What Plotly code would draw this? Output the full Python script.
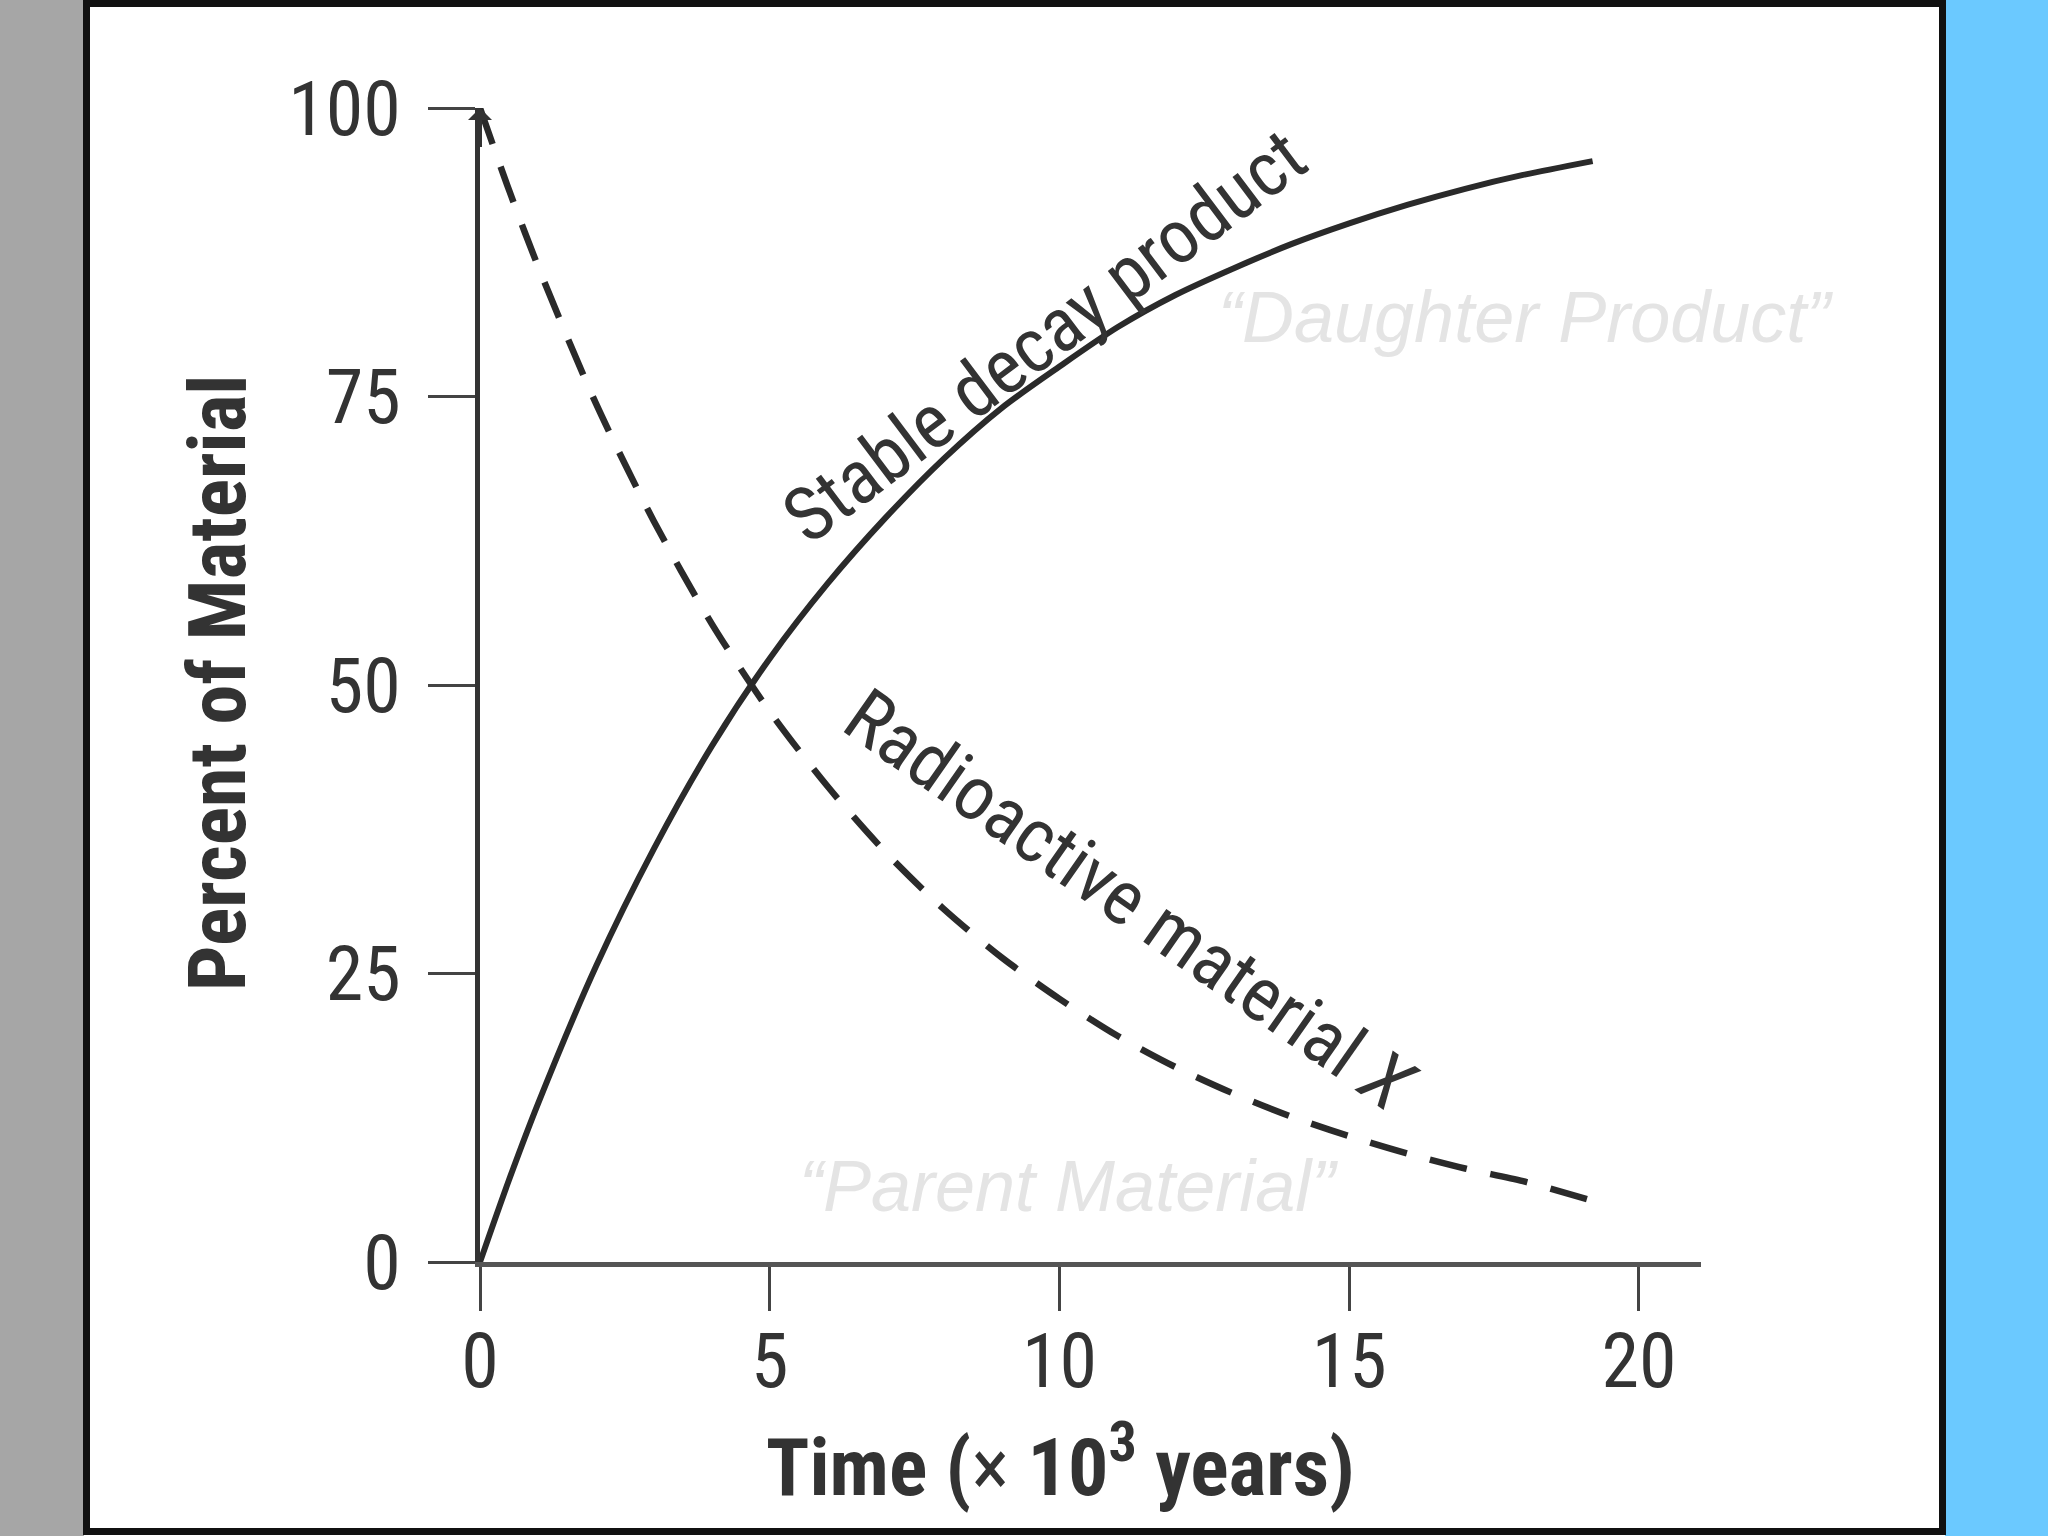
import plotly.graph_objects as go

# ---- data ----
time_kyr = [0, 0.5, 1, 2, 3, 4, 5, 6, 7, 8, 9, 10, 11, 12, 13, 14, 15, 16, 17, 18, 19.2]
radioactive_pct = [100, 92.9, 86.3, 74.4, 64.2, 55.3, 47.7, 41.2, 35.5, 30.6, 26.4,
                   22.8, 19.6, 16.9, 14.6, 12.6, 10.9, 9.4, 8.1, 7.0, 5.3]
stable_pct = [0, 7.1, 13.7, 25.6, 35.8, 44.7, 52.3, 58.8, 64.5, 69.6, 74.0,
              77.6, 81.0, 83.8, 86.1, 88.2, 90.0, 91.6, 93.0, 94.2, 95.4]
x_ticks = [0, 5, 10, 15, 20]
y_ticks = [0, 25, 50, 75, 100]
x_title = "Time (<span style='font-weight:normal'>\u00d7</span> 10<sup>3</sup> years)"
y_title = "Percent of Material"

W, H = 2048, 1536
PL, PR, PT, PB = 480, 1701, 108, 1262  # plot area in pixels


def fx(p):
    return p / W


def fy(p):
    return 1 - p / H


NARROW = "Liberation Sans Narrow, Roboto Condensed, Roboto, sans-serif"
INK = "#333333"

fig = go.Figure()
fig.add_trace(go.Scatter(
    x=time_kyr, y=stable_pct, mode="lines", cliponaxis=False,
    line=dict(color="#2a2a2a", width=6, shape="spline", smoothing=0.8),
    showlegend=False, hoverinfo="skip"))
fig.add_trace(go.Scatter(
    x=time_kyr, y=radioactive_pct, mode="lines", cliponaxis=False,
    line=dict(color="#2a2a2a", width=6.5, dash="38px,24px", shape="spline", smoothing=0.8),
    showlegend=False, hoverinfo="skip"))

fig.update_layout(
    width=W, height=H, autosize=False,
    margin=dict(l=0, r=0, t=0, b=0, pad=0, autoexpand=False),
    paper_bgcolor="white", plot_bgcolor="white",
    xaxis=dict(domain=[fx(PL), fx(PR)], range=[0, 21.07], automargin=False,
               tickvals=x_ticks, ticktext=[str(v) for v in x_ticks],
               ticks="outside", ticklen=44, tickwidth=3, tickcolor="#444",
               showline=True, linewidth=5, linecolor="#555",
               showgrid=False, zeroline=False, ticklabelstandoff=-15,
               tickfont=dict(family=NARROW, size=76, color=INK)),
    yaxis=dict(domain=[fy(PB), fy(PT)], range=[0, 100], automargin=False,
               tickvals=y_ticks, ticktext=[str(v) for v in y_ticks],
               ticks="outside", ticklen=47, tickwidth=3, tickcolor="#444",
               showline=True, linewidth=5, linecolor="#333",
               showgrid=False, zeroline=False, ticklabelstandoff=12,
               tickfont=dict(family=NARROW, size=76, color=INK)),
    shapes=[
        dict(type="rect", xref="paper", yref="paper", x0=fx(0), x1=fx(84), y0=0, y1=1,
             fillcolor="#a6a6a6", line=dict(width=0), layer="below"),
        dict(type="rect", xref="paper", yref="paper", x0=fx(1945), x1=1, y0=0, y1=1,
             fillcolor="#6BC9FF", line=dict(width=0), layer="below"),
        dict(type="rect", xref="paper", yref="paper", x0=fx(86.5), x1=fx(1942.5),
             y0=fy(1531.5), y1=fy(3.5), line=dict(color="#111111", width=7)),
    ],
)

ann = [
    dict(x=fx(218), y=fy(683), xref="paper", yref="paper", text=y_title, textangle=-90,
         xanchor="center", yanchor="middle",
         showarrow=False, font=dict(family=NARROW, size=80, color=INK, weight="bold")),
    dict(x=fx(1060), y=fy(1462), xref="paper", yref="paper", text=x_title,
         xanchor="center", yanchor="middle",
         showarrow=False, font=dict(family=NARROW, size=80, color=INK, weight="bold")),
    dict(x=9.75, y=80.2, xref="x", yref="y", text="Stable decay product", textangle=-37,
         showarrow=False, font=dict(family=NARROW, size=76, color=INK)),
    dict(x=11.22, y=31.3, xref="x", yref="y", text="Radioactive material <i>X</i>", textangle=35,
         showarrow=False, font=dict(family=NARROW, size=76, color=INK)),
    dict(x=18.05, y=81.9, xref="x", yref="y", text="\u201cDaughter Product\u201d",
         showarrow=False, font=dict(family="Liberation Sans, Arial, sans-serif", size=72,
                                    color="#e4e4e4", style="italic")),
    dict(x=10.15, y=6.6, xref="x", yref="y", text="\u201cParent Material\u201d",
         showarrow=False, font=dict(family="Liberation Sans, Arial, sans-serif", size=72,
                                    color="#e4e4e4", style="italic")),
    dict(x=0, y=100, ax=0, ay=96.5, xref="x", yref="y", axref="x", ayref="y", text="",
         showarrow=True, arrowhead=1, arrowsize=1.0, arrowwidth=4, arrowcolor="#333"),
]
fig.update_layout(annotations=ann)

fig.write_html("out.html", config={"displayModeBar": False},
               post_script="document.body.style.margin='0';document.body.style.overflow='hidden';")
